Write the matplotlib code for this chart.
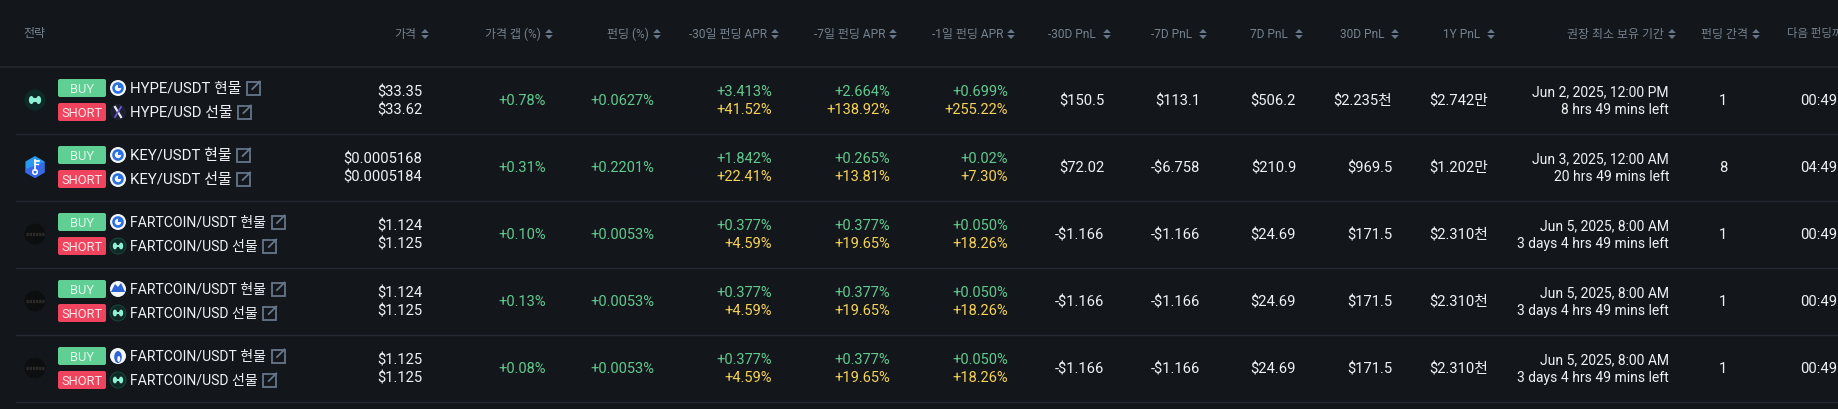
import matplotlib
matplotlib.use("Agg")
import matplotlib.pyplot as plt
from matplotlib.patches import Circle, Ellipse, FancyBboxPatch, Polygon, Rectangle, RegularPolygon

FONT = ['Roboto', 'Noto Sans CJK KR', 'DejaVu Sans']

# ---------- data ----------
header_labels = ['가격', '가격 갭 (%)', '펀딩 (%)', '-30일 펀딩 APR', '-7일 펀딩 APR', '-1일 펀딩 APR',
                 '-30D PnL', '-7D PnL', '7D PnL', '30D PnL', '1Y PnL', '권장 최소 보유 기간', '펀딩 간격']
tokens = ['hype', 'key', 'fart', 'fart', 'fart']
spot_names = ['HYPE/USDT 현물', 'KEY/USDT 현물', 'FARTCOIN/USDT 현물', 'FARTCOIN/USDT 현물', 'FARTCOIN/USDT 현물']
perp_names = ['HYPE/USD 선물', 'KEY/USDT 선물', 'FARTCOIN/USD 선물', 'FARTCOIN/USD 선물', 'FARTCOIN/USD 선물']
spot_venues = ['gate', 'gate', 'gate', 'kucoin', 'htx']
perp_venues = ['x', 'gate', 'hype', 'hype', 'hype']
price_spot = ['$33.35', '$0.0005168', '$1.124', '$1.124', '$1.125']
price_perp = ['$33.62', '$0.0005184', '$1.125', '$1.125', '$1.125']
price_gap = ['+0.78%', '+0.31%', '+0.10%', '+0.13%', '+0.08%']
funding = ['+0.0627%', '+0.2201%', '+0.0053%', '+0.0053%', '+0.0053%']
apr30_a = ['+3.413%', '+1.842%', '+0.377%', '+0.377%', '+0.377%']
apr30_b = ['+41.52%', '+22.41%', '+4.59%', '+4.59%', '+4.59%']
apr7_a = ['+2.664%', '+0.265%', '+0.377%', '+0.377%', '+0.377%']
apr7_b = ['+138.92%', '+13.81%', '+19.65%', '+19.65%', '+19.65%']
apr1_a = ['+0.699%', '+0.02%', '+0.050%', '+0.050%', '+0.050%']
apr1_b = ['+255.22%', '+7.30%', '+18.26%', '+18.26%', '+18.26%']
pnl_m30 = ['$150.5', '$72.02', '-$1.166', '-$1.166', '-$1.166']
pnl_m7 = ['$113.1', '-$6.758', '-$1.166', '-$1.166', '-$1.166']
pnl_7 = ['$506.2', '$210.9', '$24.69', '$24.69', '$24.69']
pnl_30 = ['$2.235천', '$969.5', '$171.5', '$171.5', '$171.5']
pnl_1y = ['$2.742만', '$1.202만', '$2.310천', '$2.310천', '$2.310천']
hold_date = ['Jun 2, 2025, 12:00 PM', 'Jun 3, 2025, 12:00 AM', 'Jun 5, 2025, 8:00 AM', 'Jun 5, 2025, 8:00 AM', 'Jun 5, 2025, 8:00 AM']
hold_left = ['8 hrs 49 mins left', '20 hrs 49 mins left', '3 days 4 hrs 49 mins left', '3 days 4 hrs 49 mins left', '3 days 4 hrs 49 mins left']
interval = ['1', '8', '1', '1', '1']
next_funding = ['00:49', '04:49', '00:49', '00:49', '00:49']

# ---------- layout and style ----------
W, H = 1838, 409
BG = '#13171c'
LINE = '#242a31'
HDR = '#76828f'
ICON = '#66778a'
WHITE = '#f0f2f4'
GREEN = '#62c98e'
YELLOW = '#f5d258'
BADGE_G = '#5fcf94'
BADGE_R = '#f0445e'
FS = 10.6
FS_PCT = 10.5
FS_HOLD = 10.0
FS_HDR = 8.6
NAME_SIZE = {'hype': 10.7, 'key': 10.8, 'fart': 10.1}
ROW0, ROWH = 100, 67
HALF = 9
DY = -0.4
header_right = [416.5, 540.5, 648.5, 767, 885, 1003, 1096, 1192, 1288, 1384, 1480, 1664, 1748]
sort_x = [425, 549, 657, 775, 893, 1011, 1107, 1203, 1299, 1395, 1491, 1672, 1756]

fig = plt.figure(figsize=(W / 100, H / 100), dpi=100, facecolor=BG)
ax = fig.add_axes([0, 0, 1, 1])
ax.set_xlim(0, W)
ax.set_ylim(H, 0)
ax.axis('off')


def txt(x, y, s, color=WHITE, ha='right', size=FS, **kw):
    return ax.text(x, y + DY, s, color=color, ha=ha, va='center_baseline', fontsize=size,
                   family=FONT, **kw)


def sort_icon(x, y):
    ax.add_patch(Polygon([(x - 3.8, y - 1), (x + 3.8, y - 1), (x, y - 5)], fc=ICON, ec='none'))
    ax.add_patch(Polygon([(x - 3.8, y + 1), (x + 3.8, y + 1), (x, y + 5)], fc=ICON, ec='none'))


def link_icon(x, y):
    s = 6.5
    verts = [(x + 0.5, y - s), (x - s, y - s), (x - s, y + s), (x + s, y + s), (x + s, y - 1)]
    ax.plot(*zip(*verts), color=ICON, lw=1.3, solid_joinstyle='miter')
    ax.plot([x - 1, x + s], [y + 1, y - s], color=ICON, lw=1.3)
    ax.plot([x + 2, x + s, x + s], [y - s, y - s, y - 3], color=ICON, lw=1.3)


def hype_mark(x, y, k=1.0, color='#8ff0d6'):
    ax.add_patch(Ellipse((x - 3.6 * k, y), 5 * k, 8 * k, fc=color, ec='none'))
    ax.add_patch(Ellipse((x + 3.6 * k, y), 5 * k, 8 * k, fc=color, ec='none'))
    ax.add_patch(Rectangle((x - 3 * k, y - 1.6 * k), 6 * k, 3.2 * k, fc=color, ec='none'))


def venue_icon(name, x, y):
    if name == 'gate':
        ax.add_patch(Circle((x, y), 8, fc='#f4f6f8', ec='none'))
        ax.add_patch(Circle((x, y), 5.8, fc='#2a6fe0', ec='none'))
        ax.add_patch(Circle((x, y), 3.2, fc='#f4f6f8', ec='none'))
        ax.add_patch(Rectangle((x, y - 3), 3.2, 3, fc='#2a6fe0', ec='none'))
    elif name == 'x':
        ax.add_patch(Circle((x, y), 8, fc='#1d2030', ec='none'))
        ax.plot([x - 3, x + 3], [y - 5, y + 5], color='#e8e8f0', lw=1.6)
        ax.plot([x + 3, x - 3], [y - 5, y + 5], color='#6f5fd8', lw=1.2)
    elif name == 'hype':
        ax.add_patch(Circle((x, y), 8, fc='#0d2a26', ec='#1f4a42', lw=0.6))
        hype_mark(x, y, 0.85)
    elif name == 'kucoin':
        ax.add_patch(Circle((x, y), 8, fc='#f4f6f8', ec='none'))
        ax.add_patch(Polygon([(x - 7, y + 3), (x - 3, y - 5), (x, y - 2), (x + 3, y - 6), (x + 7, y + 3)],
                             fc='#2c64d8', ec='none'))
    elif name == 'htx':
        ax.add_patch(Circle((x, y), 8, fc='#f4f6f8', ec='none'))
        ax.add_patch(Ellipse((x, y + 1), 7.5, 12, fc='#2c64d8', ec='none'))
        ax.add_patch(Ellipse((x + 0.8, y + 3), 3, 6, fc='#f4f6f8', ec='none'))


def token_icon(name, x, y):
    if name == 'hype':
        ax.add_patch(Circle((x, y), 10.5, fc='#0c2a26', ec='none'))
        hype_mark(x, y, 1.0)
    elif name == 'key':
        ax.add_patch(RegularPolygon((x, y), 6, radius=11, fc='#2a9af0', ec='none'))
        ax.add_patch(Polygon([(x - 9.5, y + 2), (x + 9.5, y - 5), (x + 9.5, y + 5.5), (x, y + 11), (x - 9.5, y + 5.5)],
                             fc='#3a5ce6', ec='none', alpha=0.8))
        ax.plot([x, x], [y - 7, y + 3], color='white', lw=1.2)
        ax.plot([x, x + 3.5], [y - 6.5, y - 6.5], color='white', lw=1.2)
        ax.plot([x, x + 2.5], [y - 3, y - 3], color='white', lw=1.0)
        ax.add_patch(Circle((x, y + 5), 2.3, fc='none', ec='white', lw=1.1))
    else:
        ax.add_patch(Circle((x, y), 10.5, fc='#0d0e0f', ec='none'))
        ax.plot([x - 9, x + 9], [y, y], color='#2c2b29', lw=2.4, ls=(0, (0.7, 0.25)))


def badge(x, y, w, h, color, label):
    ax.add_patch(FancyBboxPatch((x + 2, y + 2), w - 4, h - 4, boxstyle='round,pad=2,rounding_size=2',
                                fc=color, ec='none'))
    txt(x + w / 2, y + h / 2, label, color='#f7e8ea' if label == 'SHORT' else '#e4f6ec', ha='center', size=9.3)


# header
txt(23.5, 32.5, '전략', color=HDR, ha='left', size=FS_HDR)
for label, xr, xs in zip(header_labels, header_right, sort_x):
    txt(xr, 33, label, color=HDR, size=FS_HDR)
    sort_icon(xs, 34)
txt(1787, 33, '다음 펀딩까', color=HDR, ha='left', size=8.2)
ax.plot([0, W], [66.5, 66.5], color=LINE, lw=1.2)

single_cols = [(546, price_gap, GREEN, FS_PCT), (654, funding, GREEN, FS_PCT), (1104, pnl_m30, WHITE, FS),
               (1200, pnl_m7, WHITE, FS), (1296, pnl_7, WHITE, FS), (1392, pnl_30, WHITE, FS),
               (1487.5, pnl_1y, WHITE, FS)]
double_cols = [(422, price_spot, price_perp, WHITE, WHITE, FS), (772, apr30_a, apr30_b, GREEN, YELLOW, FS_PCT),
               (890, apr7_a, apr7_b, GREEN, YELLOW, FS_PCT), (1008, apr1_a, apr1_b, GREEN, YELLOW, FS_PCT),
               (1669, hold_date, hold_left, WHITE, WHITE, FS_HOLD)]

for i in range(len(tokens)):
    y = ROW0 + i * ROWH
    ax.plot([16, W], [y + 33.5, y + 33.5], color=LINE, lw=1.0)
    token_icon(tokens[i], 35, y)
    badge(58, y - 21, 48, 18, BADGE_G, 'BUY')
    badge(58, y + 3, 48, 18, BADGE_R, 'SHORT')
    venue_icon(spot_venues[i], 118, y - 12)
    venue_icon(perp_venues[i], 118, y + 12)
    t1 = txt(129.5, y - 12, spot_names[i], ha='left', size=NAME_SIZE[tokens[i]])
    t2 = txt(129.5, y + 12, perp_names[i], ha='left', size=NAME_SIZE[tokens[i]])
    fig.canvas.draw()
    r = fig.canvas.get_renderer()
    link_icon(t1.get_window_extent(r).x1 + 12.5, y - 12)
    link_icon(t2.get_window_extent(r).x1 + 12.5, y + 12)
    for xr, vals, c, fs in single_cols:
        txt(xr, y, vals[i], color=c, size=fs)
    for xr, a, b, ca, cb, fs in double_cols:
        txt(xr, y - HALF, a[i], color=ca, size=fs)
        txt(xr, y + HALF, b[i], color=cb, size=fs)
    txt(1723, y, interval[i], ha='center')
    txt(1800, y, next_funding[i], ha='left')

fig.savefig('out.png', dpi=100, facecolor=BG)
